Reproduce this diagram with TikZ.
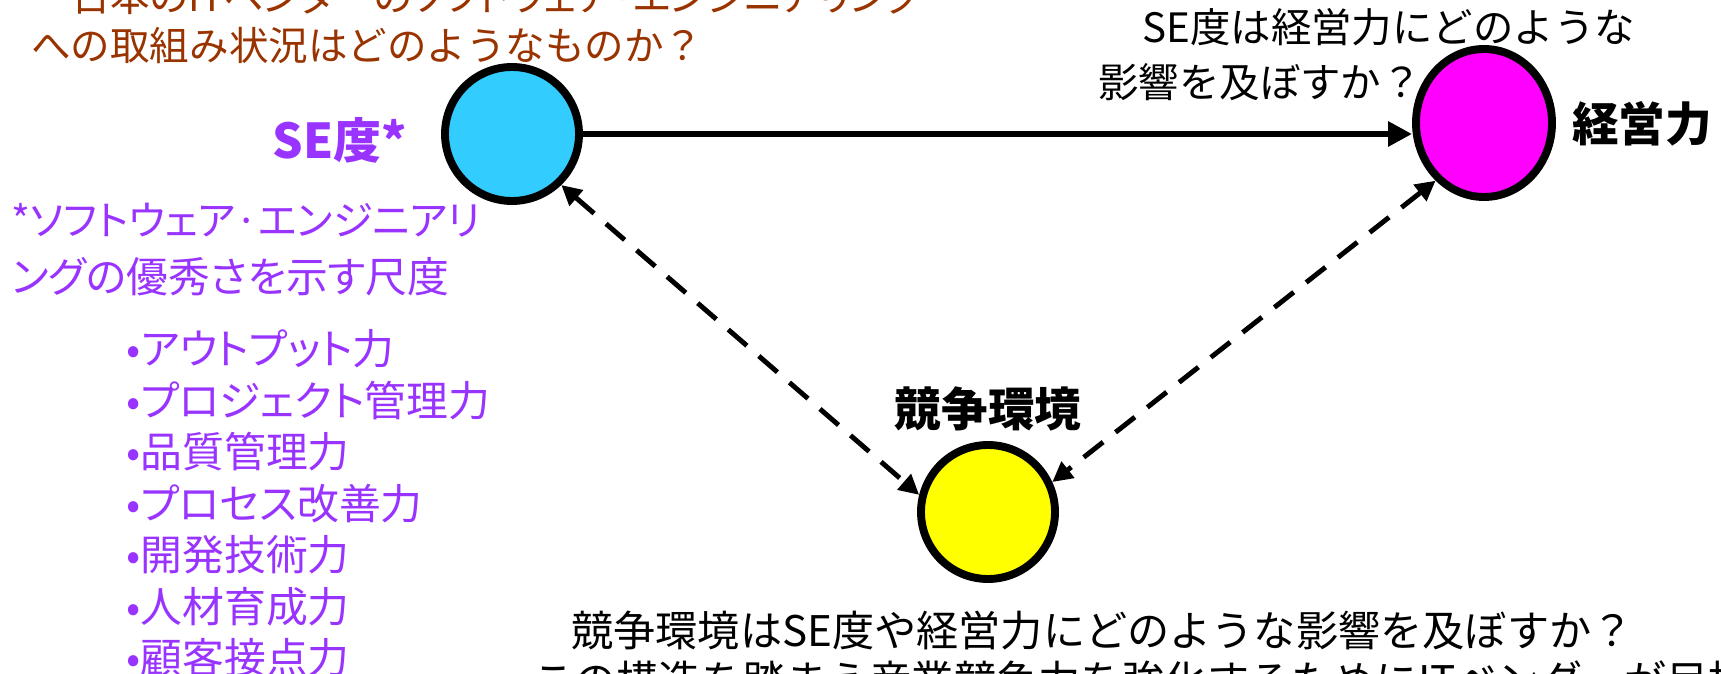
\documentclass[tikz,border=0pt]{standalone}
\usepackage{fontspec}
\setmainfont{Noto Sans CJK JP}
\newfontfamily\propfont[RawFeature=+palt]{Noto Sans CJK JP}
\usetikzlibrary{arrows.meta,shapes.geometric}
\definecolor{qbrown}{HTML}{993300}
\definecolor{sepurple}{HTML}{9933FF}
\definecolor{seblue}{HTML}{33CCFF}
\definecolor{keieipink}{HTML}{FF00FF}
\definecolor{kyosoyellow}{HTML}{FFFF00}

\begin{document}
\begin{tikzpicture}[x=0.2mm,y=-0.2mm,
  ball/.style={ellipse,draw=black,line width=4.5pt,inner sep=0pt,minimum width=26.8mm,minimum height=26.8mm},
  txt/.style={inner sep=0pt,anchor=west,font=\fontsize{23}{28}\selectfont},
  listtxt/.style={txt,sepurple,font=\propfont\fontsize{23.8}{28}\selectfont},
  head/.style={inner sep=0pt,font=\fontsize{26.5}{30}\bfseries},
  link/.style={line width=2.8pt,dash pattern=on 14pt off 9pt,{Triangle[length=4mm,width=4mm]}-{Triangle[length=4mm,width=4mm]}}]
  \useasboundingbox (0,0) rectangle (1721,674);

  % questions at the top
  \node[txt,qbrown,font=\propfont\fontsize{22.5}{27}\selectfont] (q1) at (71,-4) {日本のITベンダーのソフトウェア・エンジニアリング};
  \node[txt,qbrown,font=\fontsize{22.5}{27}\selectfont] (q2) at (31,46) {への取組み状況はどのようなものか？};

  % the three factors
  \node[ball,fill=seblue] (se) at (512,134) {};
  \node[ball,fill=keieipink,minimum width=27.2mm,minimum height=29.6mm] (keiei) at (1484,123) {};
  \node[ball,fill=kyosoyellow] (kyoso) at (988,512) {};

  \node[head,sepurple,font=\fontsize{27.3}{30}\bfseries] (selabel) at (340,140) {SE度*};
  \node[head,anchor=west] (keieilabel) at (1572,124) {経営力};
  \node[head] (kyosolabel) at (988,409) {競争環境};

  % footnote and list
  \node[listtxt,font=\propfont\fontsize{23}{28}\selectfont] (note1) at (11,220) {*ソフトウェア·エンジニアリ};
  \node[listtxt] (note2) at (11,277) {ングの優秀さを示す尺度};
  \foreach \item [count=\i from 0] in {アウトプット力,プロジェクト管理力,品質管理力,プロセス改善力,開発技術力,人材育成力,顧客接点力}
    \node[listtxt] (item\i) at (126,349+51.5*\i) {•\item};

  % arrows
  \draw[line width=3.4pt,-{Triangle[length=4.8mm,width=4.8mm]}] (se.east) -- (se.east -| keiei.west);
  \draw[link] (se.-46) -- (kyoso.166);
  \draw[link] (keiei.230) -- (kyoso.25);

  % questions on the arrows
  \node[txt] (q3) at (1142,27) {SE度は経営力にどのような};
  \node[txt] (q4) at (1098,82) {影響を及ぼすか？};
  \node[txt,font=\fontsize{24}{28}\selectfont] (q5) at (571,631) {競争環境はSE度や経営力にどのような影響を及ぼすか？};
  \node[txt,font=\fontsize{24}{28}\selectfont] (q6) at (532,681) {この構造を踏まえ産業競争力を強化するためにITベンダーが目指};
\end{tikzpicture}
\end{document}
